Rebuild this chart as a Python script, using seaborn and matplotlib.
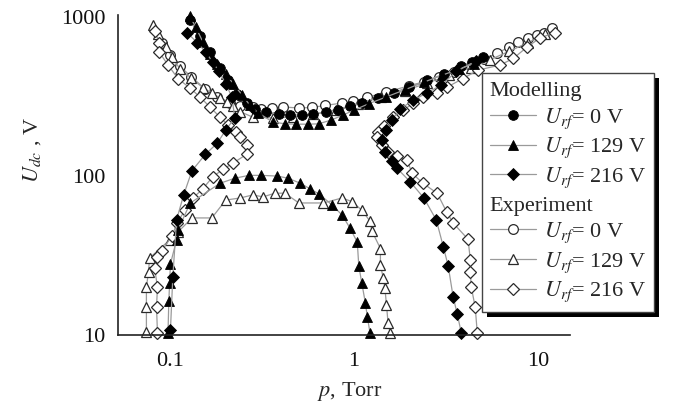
import matplotlib
matplotlib.use("Agg")
import matplotlib.pyplot as plt
from matplotlib.lines import Line2D
from matplotlib.patches import Rectangle
from matplotlib.transforms import IdentityTransform
from matplotlib.ticker import LogLocator, FixedLocator, FixedFormatter, NullFormatter
import seaborn as sns

# ---- data: pressure p (Torr) and dc voltage U_dc (V) ----
# Modelling, U_rf = 0 V
mod0_p = [0.127, 0.145, 0.165, 0.185, 0.205, 0.23, 0.26, 0.29, 0.33, 0.39, 0.45, 0.52,
          0.6, 0.7, 0.82, 0.95, 1.1, 1.35, 1.65, 2.0, 2.5, 3.1, 3.8, 4.4, 5.0]
mod0_u = [960, 760, 600, 480, 400, 330, 290, 265, 252, 245, 242, 242,
          244, 252, 262, 275, 290, 310, 335, 365, 400, 440, 490, 525, 560]

# Modelling, U_rf = 129 V (upper and lower branches)
mod129_up_p = [0.127, 0.137, 0.15, 0.165, 0.18, 0.20, 0.22, 0.245, 0.27, 0.30, 0.36, 0.42,
               0.48, 0.56, 0.64, 0.75, 0.87, 1.0, 1.2, 1.5, 1.9, 2.4, 3.0, 3.7, 4.5]
mod129_up_u = [1020, 870, 700, 590, 510, 440, 380, 325, 280, 250, 219, 213,
               212, 212, 213, 225, 242, 260, 285, 315, 350, 390, 430, 470, 510]
mod129_lo_p = [0.097, 0.098, 0.099, 0.1, 0.108, 0.11, 0.128, 0.186, 0.225, 0.268, 0.31,
               0.38, 0.436, 0.51, 0.576, 0.645, 0.76, 0.86, 0.95, 1.04, 1.06, 1.1, 1.15,
               1.18, 1.22]
mod129_lo_u = [10.3, 16.3, 21.3, 28, 39.6, 45.8, 67.5, 90, 97, 101, 101,
               100, 97, 90, 83, 77, 65.6, 56.8, 47, 38.4, 27.2, 21.3, 16,
               13, 10.3]

# Modelling, U_rf = 216 V (low- and high-pressure branches)
mod216_l_p = [0.123, 0.14, 0.156, 0.17, 0.184, 0.20, 0.216, 0.224, 0.20, 0.18, 0.155,
              0.131, 0.118, 0.108, 0.103, 0.1]
mod216_l_u = [800, 690, 600, 520, 455, 380, 315, 232, 195, 161, 137,
              108, 76, 53, 23, 10.7]
mod216_r_p = [4.6, 3.6, 2.98, 2.5, 2.1, 1.78, 1.6, 1.5, 1.42, 1.47, 1.6, 1.71, 2.02,
              2.4, 2.8, 3.06, 3.25, 3.46, 3.64, 3.83]
mod216_r_u = [530, 455, 373, 335, 300, 264, 225, 195, 168, 142, 125, 112, 92,
              72.6, 52.9, 35.8, 27.2, 17.3, 13.6, 10.3]

# Experiment, U_rf = 0 V
exp0_p = [0.09, 0.10, 0.113, 0.13, 0.154, 0.18, 0.21, 0.24, 0.28, 0.31, 0.357, 0.41,
          0.5, 0.59, 0.695, 0.86, 0.99, 1.18, 1.5, 2.0, 2.4, 2.9, 3.5, 4.3, 5.1, 6.0,
          7.0, 7.8, 8.8, 9.9, 10.8, 11.9]
exp0_u = [690, 580, 490, 420, 355, 315, 290, 275, 272, 266, 268, 272,
          268, 270, 278, 288, 295, 313, 338, 370, 392, 420, 450, 495, 545, 592,
          650, 695, 735, 770, 800, 850]

# Experiment, U_rf = 129 V (upper and lower branches)
exp129_up_p = [0.080, 0.086, 0.095, 0.102, 0.113, 0.13, 0.15, 0.168, 0.186, 0.204, 0.22,
               0.24, 0.28, 0.36, 0.465, 0.6, 0.8, 1.05, 1.4, 1.9, 2.5, 3.3, 4.3, 5.5,
               7.0, 8.8, 11.0]
exp129_up_u = [890, 780, 650, 560, 470, 413, 360, 333, 310, 294, 275,
               254, 235, 232, 235, 245, 262, 285, 315, 345, 385, 430, 480, 540,
               610, 690, 780]
exp129_lo_p = [0.074, 0.074, 0.074, 0.076, 0.077, 0.099, 0.11, 0.131, 0.168, 0.2, 0.24,
               0.28, 0.32, 0.37, 0.42, 0.5, 0.68, 0.86, 0.975, 1.1, 1.22, 1.25, 1.39,
               1.39, 1.44, 1.47, 1.5, 1.53, 1.57]
exp129_lo_u = [10.5, 15, 20, 25, 30.5, 39.6, 44.5, 54.5, 54.5, 70.6, 72.8,
               76, 74, 78, 78, 67.7, 67.7, 72.8, 69, 61, 52, 45, 35,
               27.6, 22.8, 19.8, 15.4, 11.9, 10.3]

# Experiment, U_rf = 216 V (low- and high-pressure branches)
exp216_l_p = [0.082, 0.087, 0.087, 0.097, 0.11, 0.128, 0.145, 0.164, 0.186, 0.206, 0.228,
              0.239, 0.26, 0.26, 0.22, 0.193, 0.17, 0.15, 0.133, 0.12, 0.109, 0.102,
              0.09, 0.084, 0.082, 0.085, 0.084, 0.085]
exp216_l_u = [820, 690, 600, 500, 410, 357, 314, 272, 235, 209, 190,
              176, 156, 137, 121, 110, 99, 83, 73, 61, 51, 42,
              34, 31, 26.4, 20, 15, 10.3]
exp216_r_p = [12.4, 10.3, 8.76, 7.36, 6.25, 4.73, 3.9, 3.2, 2.83, 2.37, 2.1, 1.85, 1.63,
              1.45, 1.35, 1.33, 1.42, 1.53, 1.71, 1.94, 2.07, 2.37, 2.83, 3.2, 3.46,
              4.17, 4.29, 4.29, 4.34, 4.56, 4.68]
exp216_r_u = [800, 740, 650, 550, 500, 464, 410, 362, 333, 314, 287, 260, 234,
              205, 189, 176, 157, 142, 133, 126, 104, 90, 78, 59, 50.6,
              40, 29.6, 24.9, 20, 15, 10.3]

x_ticks = [0.1, 1, 10]
x_tick_labels = ["0.1", "1", "10"]
y_ticks = [10, 100, 1000]
y_tick_labels = ["10", "100", "1000"]

legend_labels = ["Modelling", "$U_{rf}$= 0 V", "$U_{rf}$= 129 V", "$U_{rf}$= 216 V",
                 "Experiment", "$U_{rf}$= 0 V", "$U_{rf}$= 129 V", "$U_{rf}$= 216 V"]

# ---- style ----
sns.set_style("white")
plt.rcParams["font.family"] = ["Liberation Serif", "DejaVu Serif"]
plt.rcParams["mathtext.fontset"] = "stix"

LINE = "#9a9a9a"
EDGE = "#2a2a2a"
FS = 16

fig = plt.figure(figsize=(6.74, 4.09), dpi=100)
ax = fig.add_axes([0.175, 0.181, 0.671, 0.782])

filled = dict(markerfacecolor="black", markeredgecolor="black", markeredgewidth=0.6)
hollow = dict(markerfacecolor="white", markeredgecolor=EDGE, markeredgewidth=0.9)
sizes = {"o": 7, "^": 7.5, "D": 5.8}

series = [
    (exp0_p, exp0_u, "o", hollow),
    (exp129_up_p, exp129_up_u, "^", hollow),
    (exp129_lo_p, exp129_lo_u, "^", hollow),
    (exp216_l_p, exp216_l_u, "D", hollow),
    (exp216_r_p, exp216_r_u, "D", hollow),
    (mod0_p, mod0_u, "o", filled),
    (mod129_up_p, mod129_up_u, "^", filled),
    (mod129_lo_p, mod129_lo_u, "^", filled),
    (mod216_l_p, mod216_l_u, "D", filled),
    (mod216_r_p, mod216_r_u, "D", filled),
]

for xs, ys, mk, style in series:
    sns.lineplot(x=xs, y=ys, ax=ax, sort=False, estimator=None, color=LINE,
                 linewidth=0.9, marker=mk, markersize=sizes[mk], clip_on=False,
                 legend=False, **style)

ax.set_xscale("log")
ax.set_yscale("log")
ax.set_xlim(0.0518, 15.0)
ax.set_ylim(10, 1029)

ax.xaxis.set_major_locator(FixedLocator(x_ticks))
ax.xaxis.set_major_formatter(FixedFormatter(x_tick_labels))
ax.yaxis.set_major_locator(FixedLocator(y_ticks))
ax.yaxis.set_major_formatter(FixedFormatter(y_tick_labels))
ax.xaxis.set_minor_locator(LogLocator(base=10, subs=range(2, 10), numticks=20))
ax.yaxis.set_minor_locator(LogLocator(base=10, subs=range(2, 10), numticks=20))
ax.xaxis.set_minor_formatter(NullFormatter())
ax.yaxis.set_minor_formatter(NullFormatter())

ax.tick_params(which="major", direction="in", length=8.5, width=1.0, color="#222222",
               labelsize=FS, labelcolor="#111111", pad=9)
ax.tick_params(which="minor", direction="in", length=4.8, width=1.0, color="#222222")
ax.tick_params(axis="x", which="major", pad=12)

for side in ("top", "right"):
    ax.spines[side].set_visible(False)
for side in ("left", "bottom"):
    ax.spines[side].set_color("#222222")
    ax.spines[side].set_linewidth(1.2)

ax.set_xlabel("$p$, Torr", fontsize=FS)
ax.set_ylabel("$U_{dc}$ , V", fontsize=FS)
ax.xaxis.set_label_coords(0.513, -0.14)
ax.yaxis.set_label_coords(-0.166, 0.578)

# ---- legend with section headers ----
blank = Line2D([], [], linestyle="none", marker=None)
def handle(mk, style):
    return Line2D([], [], color=LINE, linewidth=0.9, marker=mk,
                  markersize=sizes[mk], **style)

handles = [blank, handle("o", filled), handle("^", filled), handle("D", filled),
           blank, handle("o", hollow), handle("^", hollow), handle("D", hollow)]

leg = ax.legend(handles, legend_labels, loc="upper left",
                bbox_to_anchor=(0.715, 0.822), bbox_transform=fig.transFigure,
                borderaxespad=0, fontsize=FS, frameon=True, fancybox=False,
                shadow=False, framealpha=1, facecolor="white",
                handlelength=2.1, handletextpad=0.35,
                labelspacing=0.23, borderpad=0.35)
leg.get_frame().set_edgecolor("#444444")
leg.get_frame().set_linewidth(1.0)
leg.set_zorder(6)

# headers start where the handle lines start
try:
    column = leg._legend_handle_box.get_children()[0]
    rows = column.get_children()
    for idx in (0, 4):
        rows[idx].get_children()[0].width = 0
        rows[idx].sep = 0
except Exception:
    pass

# solid drop shadow behind the legend box
fig.canvas.draw()
bb = leg.get_frame().get_window_extent(fig.canvas.get_renderer())
shadow = Rectangle((bb.x0 + 5, bb.y0 - 5), bb.width, bb.height, transform=IdentityTransform(),
                   facecolor="black", edgecolor="none", zorder=5.9, clip_on=False)
ax.add_artist(shadow)

fig.savefig("out.png", dpi=100)
